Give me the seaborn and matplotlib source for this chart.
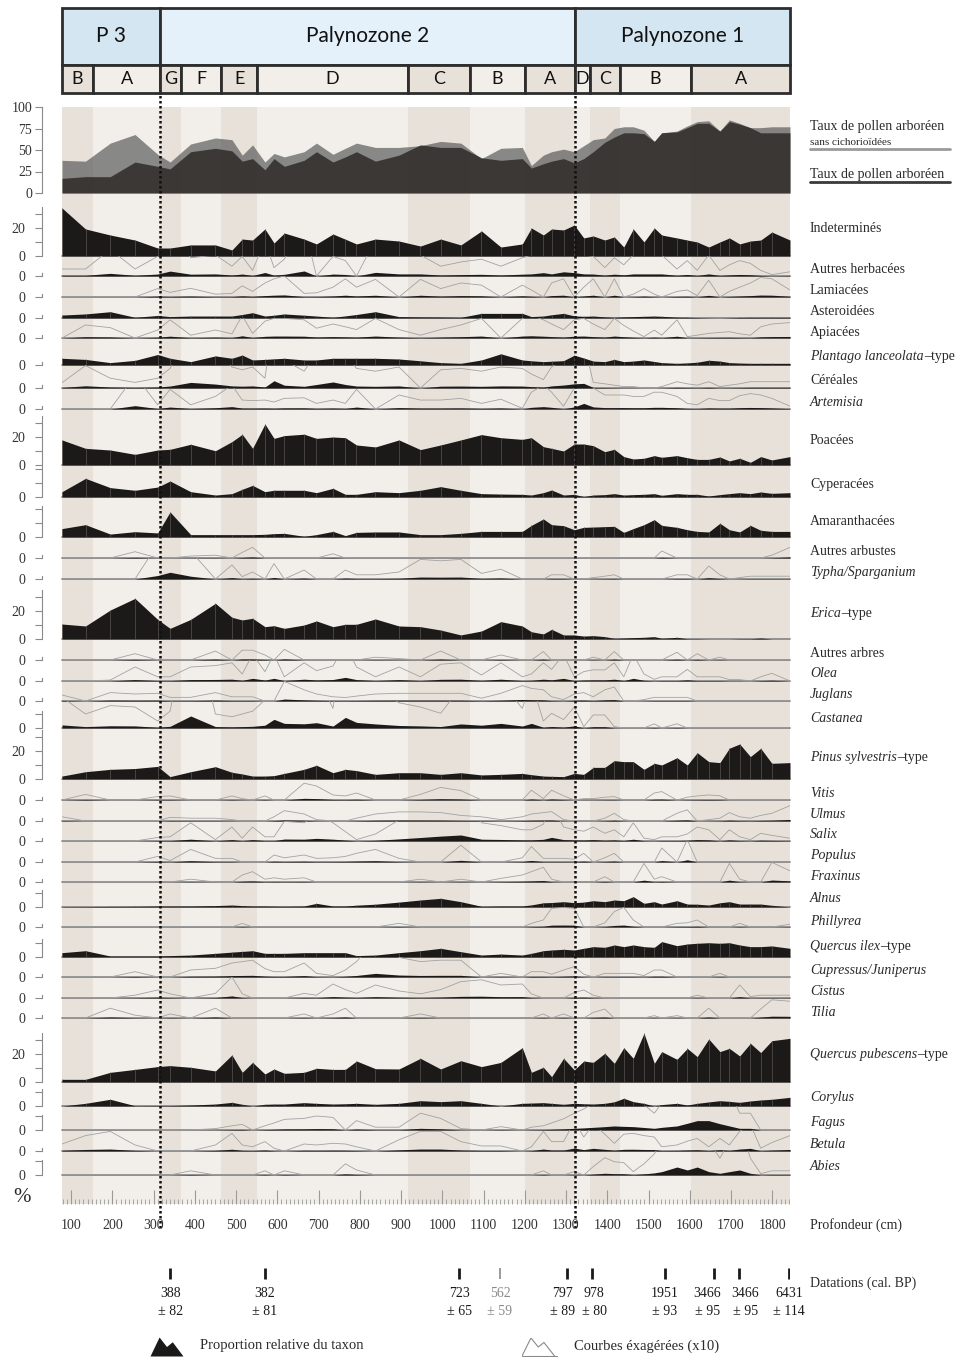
import matplotlib
matplotlib.use('Agg')
import matplotlib.pyplot as plt
from matplotlib.lines import Line2D
from matplotlib.ticker import MultipleLocator
import numpy as np
import seaborn as sns

sns.set_theme(style='white')
plt.rcParams['font.family'] = ['Liberation Serif', 'DejaVu Serif']

# ---------------------------------------------------------------- data
# sample depths (cm)
depth = [78, 135, 195, 255, 310, 340, 390, 450, 490, 515, 540, 570, 592, 617, 665, 695,
         735, 765, 792, 838, 895, 947, 996, 1045, 1095, 1142, 1194, 1216, 1245, 1265,
         1294, 1320, 1343, 1366, 1394, 1417, 1440, 1463, 1489, 1514, 1532, 1569, 1594,
         1618, 1646, 1673, 1696, 1721, 1747, 1772, 1799, 1843]

# arboreal pollen (%)
ap_total = [17, 19, 19, 36, 31, 28, 48, 52, 49, 37, 40, 27, 40, 31, 38, 48, 36, 42, 48, 37,
            44, 56, 53, 53, 41, 38, 40, 29, 34, 37, 40, 35, 40, 48, 59, 65, 70, 70, 69, 60,
            70, 71, 76, 81, 81, 72, 83, 80, 76, 70, 70, 70]
ap_sans_cichorioidees = [38, 37, 58, 68, 45, 36, 57, 64, 62, 44, 56, 36, 46, 42, 48, 58, 45, 52,
                         58, 53, 53, 55, 60, 58, 40, 52, 53, 32, 44, 48, 51, 48, 55, 62, 64, 75,
                         77, 77, 73, 60, 70, 72, 78, 83, 84, 72, 85, 81, 76, 76, 77, 77]

# taxa (%)
indetermines = [34.3, 19.3, 15, 11.4, 5.7, 5.7, 7.9, 7.9, 4.3, 12.1, 11.4, 19.3, 9.3, 16.4, 12.1,
                8.6, 15.7, 12, 8.6, 12.1, 10.7, 7.1, 12.1, 7.9, 17.9, 6.4, 8.6, 20, 15, 19.3,
                18.6, 22.1, 12.9, 14.3, 11.4, 13.6, 6.4, 19.3, 10, 20, 15, 12.9, 11.4, 10, 6.4,
                10, 12.9, 8.6, 10.7, 11.4, 17.1, 11.4]
autres_herbacees = [0.5, 0.5, 1.9, 0.5, 1.4, 3.5, 1.3, 1.5, 0.7, 1.4, 0.4, 2.5, 0.6, 1.2, 3.6, 0,
                    1.4, 1.1, 0, 2.6, 1.5, 1.5, 0.7, 1, 1.2, 0.7, 1.3, 1.5, 2.4, 1.5, 3, 2.4, 1.5,
                    1.4, 0.6, 1.3, 0.8, 1.5, 1.5, 1.5, 1.5, 0.5, 1.1, 0.4, 1.5, 0.4, 0.8, 1.1, 0.9,
                    0.4, 0.1, 0.3]
lamiacees = [0, 0, 0, 0, 0.6, 0.33, 0.62, 0.2, 0.26, 0.8, 0.4, 1, 1.3, 1.5, 0.26, 0.3, 0.7, 1.3,
             0.7, 1.26, 0, 1.26, 0.6, 1, 0.85, 0, 0.85, 0.5, 0, 1, 1.3, 0, 0.7, 1.3, 0, 1.3, 0,
             0.2, 0.6, 0.2, 0, 0.4, 0.5, 0.1, 1.2, 0, 0.4, 0.7, 1, 1.4, 1.3, 0.5]
asteroidees = [2.1, 2.9, 4.5, 0.5, 1.8, 1, 1.4, 1.4, 1.4, 2.5, 3.8, 1.4, 2, 2.9, 2, 1.4, 0.5, 1.5,
               2.5, 4.5, 1, 0.8, 0.7, 0.5, 3.3, 3.3, 3.3, 1, 1.4, 2.3, 3.3, 1.5, 1.2, 1.4, 0.8,
               0.5, 0.8, 1, 1.2, 1.4, 1.2, 0.6, 0.5, 0.3, 0.1, 0, 0.2, 0.4, 0.5, 0.5, 0.5, 0.5]
apiacees = [0, 0.93, 0.74, 0, 0.57, 1.3, 0.2, 0.57, 0.3, 1.6, 0.33, 1.2, 1.4, 1.4, 1.3, 0.7, 1,
            0.8, 0.6, 1.4, 0.6, 0.2, 0.6, 0.93, 1.4, 0, 1.4, 1.6, 1.3, 1, 0.6, 1.3, 1.4, 1, 0.6,
            1.4, 0.9, 0.5, 0.1, 0.57, 0.2, 1.3, 0.1, 0.2, 0.33, 0.4, 0.45, 0.3, 0.2, 0.8, 1, 1.1]
plantago = [4.8, 4, 1.7, 3.3, 7.5, 4.8, 2.4, 6.5, 4.8, 7.1, 3.6, 4, 4.4, 4.8, 3.6, 3.6, 4.8, 4.8,
            4.8, 4.8, 4.3, 3, 1.7, 1.2, 3.6, 8, 3.6, 3, 2.4, 2.7, 3.1, 7, 5, 2.8, 2.4, 4, 2.4,
            2.8, 3.6, 2.5, 1.7, 1.2, 1.5, 2, 3.4, 2.8, 1.7, 1.4, 1.2, 1.2, 1.2, 1.2]
cereales = [0.38, 1.6, 0.7, 0.4, 0.7, 1.4, 4, 2.8, 1.5, 1.3, 1.5, 0.7, 5.2, 2, 1.2, 2.5, 4.3, 2.5,
            1.4, 1.2, 1.5, 0, 1.3, 1.4, 1.2, 1.5, 1.4, 1, 0.6, 1.5, 2.1, 3, 3.3, 0.4, 0.3, 0.2,
            0.1, 0.1, 0, 0, 0.1, 0.45, 0.3, 0.2, 0.45, 0.1, 0.2, 0.3, 0.45, 0.45, 0.45, 0.45]
artemisia = [0, 0, 0, 2.4, 0.3, 1.4, 0.3, 0.9, 1.7, 0.64, 0.6, 0.64, 0.5, 0.76, 0.8, 0.4, 0.64,
             0.4, 1.4, 0, 1, 0.64, 0.64, 0.76, 0.4, 0.7, 0.05, 1.2, 1.7, 1.2, 0.2, 1.5, 4, 1.5, 1,
             1, 1, 0.9, 0.9, 1.2, 1.2, 0.9, 0.4, 0.3, 0.76, 0.6, 0.6, 0.95, 1.1, 1, 0.76, 0.2]
poacees = [17.9, 11.9, 10.7, 7.6, 10.7, 11.2, 14.8, 10.2, 16.7, 21.9, 11.9, 29.3, 19, 21, 22, 19,
           20, 19.5, 14.3, 12.9, 17.9, 11, 14.3, 17.9, 21.7, 19.5, 18.3, 19.5, 13.1, 11.9, 10, 15,
           15, 13.8, 9.5, 11.2, 6, 4.3, 4.8, 6.7, 5.5, 6.7, 5.2, 4, 4, 5.7, 2.9, 4.8, 1.9, 6, 3.6, 6]
cyperacees = [3.8, 13.3, 6.7, 4.8, 7.1, 11.4, 3.8, 1.4, 2.4, 5.5, 8.3, 3.8, 4.8, 4.8, 4.8, 3.1,
              6.2, 1.9, 1.9, 3.8, 3.1, 4.8, 7.4, 4.8, 2.4, 2.1, 1.9, 1.4, 3.1, 5, 1.4, 1.9, 0.3,
              1.4, 1.7, 2.4, 1.4, 1.7, 1.9, 2.4, 1.2, 2.4, 1.9, 1.9, 0.7, 1.7, 2.4, 3.1, 2.4, 3.6,
              2.6, 3.1]
amaranthacees = [6, 8.8, 2.1, 3.8, 2.9, 17.9, 1.7, 1.7, 1.7, 1.7, 1.7, 1.9, 2.4, 2.6, 0.5, 1.7, 4,
                 1, 3.3, 3.6, 3.6, 1.7, 1.7, 2.6, 4, 4, 4, 8.3, 12.9, 8.8, 8.1, 5.2, 6.9, 7.1, 7.4,
                 7.6, 3.3, 6, 8.8, 12.4, 8.3, 6.9, 5.2, 4, 3.6, 9.8, 5.2, 3.6, 8.3, 4.8, 4, 4]
autres_arbustes = [0, 0, 0, 0.45, 0, 0, 0.14, 0.2, 0, 0.4, 0.76, 0, 0, 0, 0, 0, 0.3, 0, 0, 0, 0,
                   0, 0, 0, 0, 0, 0, 0, 0, 0, 0, 0, 0, 0, 0, 0, 0, 0, 0, 0, 0.5, 0, 0, 0, 0, 0, 0,
                   0, 0, 0, 0.2, 0.76]
typha = [0, 0, 0, 0, 2.5, 4.8, 2, 0, 1, 0.17, 0.5, 0, 1.1, 0, 0.64, 0, 0, 0.64, 0.3, 0.3, 0.5,
         1.4, 1.3, 1.4, 0.4, 0.7, 0, 0, 0, 0.3, 0.3, 0, 0, 0.1, 0.2, 0.3, 0, 0, 0, 0, 0, 0.3,
         0.3, 0, 0.93, 0.3, 0, 0.1, 0.2, 0.2, 0.2, 0.2]
erica = [10.7, 9.3, 20.7, 29, 14, 7.6, 14, 25.5, 15.5, 13.6, 14.8, 8.8, 9.5, 7.6, 10, 12.9, 8.8,
         10.5, 10.5, 14.3, 9.3, 8.8, 6.4, 2.9, 5.7, 12.4, 9.3, 5.2, 3.6, 6.9, 2.9, 2.9, 2.1, 2.4,
         1.7, 0.5, 0.7, 1, 1.2, 1.7, 0.5, 1.2, 0.2, 0.2, 0, 0, 0, 0.2, 0.2, 0.7, 0, 0]
autres_arbres = [0, 0, 0, 0.45, 0, 0, 0, 0.64, 0, 0.7, 0.7, 0.36, 0, 0.76, 0, 0, 0, 0, 0, 0.2,
                 0.1, 0, 0.64, 0, 0, 0.36, 0, 0, 0.6, 0, 0, 0, 0, 0.2, 0, 0.6, 0, 0, 0, 0, 0,
                 0.55, 0, 0.45, 0, 0.2, 0, 0, 0, 0, 0, 0]
olea = [0, 0, 0.07, 1, 0.3, 0.3, 1, 1.1, 1.3, 0.5, 1.9, 0.67, 1.9, 0.3, 1.3, 0.74, 1.07, 2.6, 1,
        0.3, 1, 0.3, 1.2, 1.3, 0.43, 1.3, 0.3, 0.5, 1.3, 0.83, 1.9, 0.3, 0.67, 0.8, 0.79, 1.3,
        0.3, 1.9, 0.5, 0.12, 0.3, 0.3, 0.83, 0.3, 0.3, 0.3, 0.1, 0.1, 0, 0.3, 0.55, 0]
juglans = [0.43, 0, 0.6, 0.5, 0.55, 0.26, 0.26, 0.6, 0.3, 0.3, 0.3, 0, 0, 1.4, 0.8, 0.5, 0.3,
           0.25, 0.35, 0.5, 0.55, 0.55, 0.55, 0.55, 0.2, 0.55, 1.1, 0.9, 0.8, 0.3, 0.1, 0.5, 0.6,
           0.3, 0.8, 1, 0, 0, 0.1, 0.26, 0.26, 0.26, 0.26, 0, 0, 0, 0, 0, 0, 0, 0, 0]
castanea = [2.2, 1, 1.6, 1.5, 0.5, 1.2, 8.6, 1, 0.8, 1, 1.2, 2, 6.2, 3.3, 3, 3.8, 1.4, 7.6, 4,
            2.9, 1.8, 1.5, 1.05, 2.9, 2, 3.3, 1.4, 3.3, 0.5, 1.05, 0.6, 1.5, 0.1, 0.93, 0.93, 0.1,
            0, 0, 0, 0.3, 0, 0.3, 0, 0, 0, 0, 0, 0, 0, 0, 0, 0]
pinus = [2.1, 5.2, 6.9, 7.5, 9, 1.7, 5.2, 8.8, 4.8, 3.6, 2.1, 2.1, 2.4, 4, 6.9, 9.8, 4.5, 6.9, 6,
         3.3, 4.5, 4.5, 3.3, 4.5, 2.9, 3.3, 4, 3.1, 2.1, 1.9, 1.7, 4, 3.3, 8.3, 8.3, 13.1, 12.4,
         12.4, 6.9, 11.2, 10, 15.2, 10, 18.8, 12.4, 11.7, 22, 25, 16, 21.9, 11.2, 11.7]
vitis = [0, 0.4, 0, 0, 0.25, 0.29, 0, 0, 0.29, 0.1, 0, 0.29, 0, 0, 1.2, 1, 0.36, 0.29, 0.5, 0, 0,
         0.4, 0.9, 0.67, 0, 0, 0, 0.7, 0.1, 0.7, 0.3, 0, 0.1, 0.1, 0.2, 0.24, 0, 0, 0, 0.5, 0.6,
         0, 0.2, 0.29, 0.36, 0.3, 0, 0, 0, 0, 0, 0]
ulmus = [0.3, 0, 0, 0, 0, 0.26, 0.2, 0.2, 0.1, 0, 0, 0, 0.3, 0.74, 0.5, 0.1, 0, 0, 0.2, 0.5, 0.65,
         0.65, 0.6, 0.4, 0.3, 0.1, 0.3, 0.5, 0.6, 0.67, 0.1, 0, 0, 0, 0.2, 0.55, 0.1, 0, 0, 0, 0,
         0.55, 0.8, 0, 0.1, 0.2, 0.6, 0.3, 0.2, 0.4, 0.55, 1.1]
salix = [0, 0, 0, 0, 0.25, 0.3, 1.3, 0.1, 1, 0.2, 1, 0.3, 0.3, 1.4, 1.3, 1.9, 1.3, 0.67, 0.1, 0.5,
         1.5, 2.5, 3.5, 4.3, 1.3, 1.1, 0.8, 0.8, 1.2, 2.6, 1, 0.8, 0.7, 1, 0.55, 0.8, 0.3, 1.3,
         0.2, 0.1, 0.3, 0.3, 0.5, 1, 0.8, 0.1, 0.8, 0.3, 0.1, 0.55, 0.4, 0.2]
populus = [0, 0, 0, 0, 0.4, 0.1, 0.9, 0.26, 0.26, 0, 0, 0, 0.5, 0.3, 0.5, 0.26, 0.3, 0.4, 0.62,
           0.9, 0.26, 0, 0, 1.2, 0, 0, 0.3, 1.1, 0.26, 0.26, 0.26, 0.2, 0.62, 0, 0.3, 0.62, 0, 0,
           0, 0, 1, 0, 1.6, 0, 0, 0, 0, 0, 0, 0, 0, 0]
fraxinus = [0, 0, 0, 0, 0, 0, 0.2, 0, 0, 0.5, 0.74, 0.2, 0.3, 0.2, 0.3, 0, 0, 0, 0, 0, 0, 0.2, 0,
            0.2, 0, 0.26, 0.5, 0.74, 1.05, 0.2, 0, 0, 0, 0, 0.38, 0, 0, 0, 1.33, 0.2, 0.38, 0, 0,
            0, 0, 0, 1.33, 0.2, 0, 0, 1.4, 0.8]
alnus = [0.2, 0.3, 0.4, 0.5, 0.7, 0.7, 0.7, 1, 1.4, 1, 0.7, 0.7, 0.6, 0.5, 0.7, 2.6, 0.7, 0.7,
         1.3, 2, 3.5, 5, 6.2, 3.8, 0.5, 0.7, 0.7, 1.5, 3, 3.2, 3.8, 3.1, 3.5, 4.5, 3.8, 5, 4.5,
         7.4, 2.6, 3.8, 2.1, 4.5, 2.1, 2, 1.4, 3, 3.8, 2.1, 2.1, 2.1, 1.2, 0]
phillyrea = [0, 0, 0, 0, 0, 0, 0, 0, 0, 0.26, 0, 0, 0, 0, 0, 0, 0, 0, 0, 0, 0.26, 0, 0, 0, 0, 0,
             0, 0.26, 0.5, 1.33, 1.4, 1.33, 0, 0, 0.3, 1.1, 1.4, 0.5, 0, 0, 0, 0.26, 0.3, 0.5, 0,
             0, 0, 0.26, 0, 0, 0, 0.2]
quercus_ilex = [3.1, 4.5, 0.7, 0.7, 0.7, 1, 1.4, 2.6, 3.5, 4, 4.5, 2.6, 2.6, 2.6, 3.1, 3.1, 3.1,
                3.1, 1, 1.4, 3.1, 4.5, 6.2, 3.8, 1.4, 2.1, 1.4, 2.6, 4.5, 5, 5.5, 5, 6.2, 7.4, 6.9,
                8.6, 7.4, 8.6, 7.4, 6.9, 11, 8.1, 9.3, 9.8, 10.2, 9.8, 10.2, 8.6, 7.4, 7.4, 7.9, 6.2]
cupressus = [0, 0, 0, 0.38, 0, 0, 0.5, 0.62, 1, 1.1, 1.2, 0.6, 0.38, 0.38, 1, 0.26, 0.1, 0.5, 1.1,
             2.6, 1.4, 1.1, 1.2, 1.2, 0, 0.26, 0, 0.38, 0.38, 0.2, 0.5, 0.74, 0.2, 0, 0.26, 0.26,
             0.26, 0.26, 0.1, 0.5, 0.5, 0, 0, 0, 0, 0.26, 0, 0, 0, 0, 0, 0]
cistus = [0, 0, 0, 0.2, 0.57, 0.3, 0, 0.33, 1.5, 0.3, 0, 0, 0, 0, 0.33, 0.2, 1, 0.6, 0.33, 0.93,
          0.5, 0.3, 0.6, 1.17, 1.3, 0.93, 1, 0.3, 0, 0, 0, 0.4, 0.57, 0.2, 0, 0, 0, 0, 0, 0, 0, 0,
          0, 0.2, 0, 0, 0, 0.93, 0.1, 0.2, 0.2, 0.2]
tilia = [0, 0, 0.7, 0.2, 0, 0.29, 0, 0.7, 0, 0, 0, 0, 0, 0, 0.29, 0, 0.29, 0.7, 0, 0, 0, 0.29, 0,
         0, 0, 0, 0, 0, 0.29, 0, 0.29, 0, 0, 0.4, 0.64, 0, 0, 0, 0, 0.17, 0, 0.17, 0, 0, 0.7, 0,
         0, 0, 0, 0.64, 1.3, 1.2]
quercus_pubescens = [1.9, 1.9, 6.9, 9, 11, 11.7, 10.5, 7.9, 19.3, 6.9, 14, 5.7, 9.3, 6.2, 6.9,
                     9.8, 9, 9, 15, 9.5, 9.3, 16.9, 9.3, 15.2, 11, 14, 24.5, 6.9, 10.5, 3.8, 16.9,
                     8.6, 15, 14, 20.5, 13.3, 24.5, 16.9, 34.8, 13.3, 21.7, 16.2, 24, 18.1, 30.7,
                     21.7, 24, 18.6, 27.6, 21, 29.5, 31.2]
corylus = [0, 1.9, 4.8, 0.2, 0.3, 0.3, 0.7, 1.4, 2.6, 1.2, 0, 1.2, 1.4, 1.4, 2.4, 1.9, 1.4, 1.6,
           1.9, 1.2, 1.9, 3.8, 3.1, 3.8, 1.9, 0, 1.9, 2.1, 2.4, 1.9, 1.2, 1.9, 1.6, 1.4, 1.9, 3,
           5.5, 3.1, 1.9, 0, 1, 1.9, 0.7, 1.9, 2.9, 3.8, 3.3, 2.6, 3.6, 4.3, 4.8, 6.2]
fagus = [0, 0, 0, 0, 0, 0, 0, 0.1, 0.3, 0.4, 0, 0.3, 0.5, 0.76, 0.83, 1, 0.9, 0, 0.67, 0.2, 0.2,
         1.2, 0.83, 0.1, 0, 0.24, 0, 0.2, 0.3, 0.5, 0.8, 1.2, 1.5, 1.9, 2.4, 2.9, 2.6, 2.4, 1.8,
         1.2, 1.9, 2.9, 4.8, 6.7, 6.7, 4.5, 2.9, 1.2, 1.2, 0, 0, 0]
betula = [0.5, 1.1, 1.4, 0.43, 0, 0, 0, 0.43, 1.26, 0.43, 0.3, 0.67, 0.2, 0, 0.5, 0.43, 0.55, 0.5,
          0.3, 0, 0.8, 1.4, 1.4, 0.67, 0.36, 0.36, 0, 0.3, 1.4, 0.67, 0.67, 2.1, 1, 1.9, 1.2, 0.55,
          1.2, 1.26, 1.1, 1, 0.3, 0.43, 0.7, 0.9, 0.3, 0.9, 0.43, 1.4, 1.9, 0.2, 0.6, 1.1]
abies = [0, 0, 0, 0, 0, 0, 0.3, 0, 0, 0, 0, 0.3, 0, 0.3, 0, 0, 0, 0.8, 0.36, 0, 0, 0, 0, 0, 0, 0,
         0, 0, 0.3, 0, 0, 0.24, 0, 0.6, 1.24, 0.95, 0.88, 0.24, 0.8, 1.5, 2.4, 5.7, 3.6, 5.7, 2.4,
         1.2, 2.4, 3.6, 1.2, 0.1, 0.3, 0.3]

# zonation
palynozones = ['P 3', 'Palynozone 2', 'Palynozone 1']
palynozone_bounds = [78, 316, 1322, 1843]
subzones = ['B', 'A', 'G', 'F', 'E', 'D', 'C', 'B', 'A', 'D', 'C', 'B', 'A']
subzone_bounds = [78, 153, 316, 367, 464, 551, 917, 1067, 1201, 1322, 1358, 1431, 1603, 1843]

# radiocarbon dates
date_depth = [340, 570, 1041, 1140, 1303, 1363, 1540, 1659, 1720, 1841]
date_age = [388, 382, 723, 562, 797, 978, 1951, 3466, 3466, 6431]
date_err = [82, 81, 65, 59, 89, 80, 93, 95, 95, 114]
date_rejected = [False, False, False, True, False, False, False, False, False, False]

legend_icon_x = [0, 1.1, 2.0, 2.7, 4]
legend_icon_y = [0, 1, 0.5, 0.75, 0]

# ---------------------------------------------------------------- layout
W, H = 962, 1357
fig = plt.figure(figsize=(W / 100, H / 100), dpi=100)
fig.patch.set_facecolor('white')


def box(x0, y0, x1, y1):
    # pixel box (origin top-left) -> figure rect
    return [x0 / W, 1 - y1 / H, (x1 - x0) / W, (y1 - y0) / H]


PLOT_L, PLOT_R = 62, 790
XLIM = (depth[0], depth[-1])
PX_PER_PCT = 1.4
SHADE, LIGHT = '#e7e1d9', '#f2efeb'
INK = '#1c1a19'
EXAG = '#a2a2a2'
AXIS = '#8a8a8a'
TXT = '#2a2a2a'
SANS = ['Lato', 'DejaVu Sans']


def left_axis(ax, major, minor, bound, pad):
    for s in ('top', 'right', 'bottom'):
        ax.spines[s].set_visible(False)
    sp = ax.spines['left']
    sp.set_position(('outward', 14.4))
    sp.set_bounds(0, bound)
    sp.set_color(AXIS)
    sp.set_linewidth(0.8)
    ax.set_yticks(major)
    ax.set_yticks(minor, minor=True)
    ax.tick_params(axis='y', which='both', left=True, direction='out', length=5,
                   width=0.8, color=AXIS, labelsize=10, labelcolor='#333333', pad=pad)
    ax.set_xticks([])
    ax.set_xlim(XLIM)
    ax.set_xlabel('')
    ax.set_ylabel('')


def right_label(parts, y_px, size=10, color=TXT):
    x = 810 / W
    y = 1 - (y_px + 4) / H
    r = fig.canvas.get_renderer()
    for txt, st in parts:
        t = fig.text(x, y, txt, style=st, fontsize=size, color=color, va='baseline', ha='left')
        x = t.get_window_extent(renderer=r).x1 / fig.bbox.width


# background bands of the sub-zones
bg = fig.add_axes(box(PLOT_L, 107, PLOT_R, 1204), zorder=0)
for i in range(len(subzones)):
    bg.axvspan(subzone_bounds[i], subzone_bounds[i + 1],
               color=SHADE if i % 2 == 0 else LIGHT, lw=0)
bg.set_xlim(XLIM)
bg.axis('off')

# zone header
hd = fig.add_axes(box(PLOT_L, 8, PLOT_R, 93), zorder=3)
hd.set_xlim(XLIM)
hd.set_ylim(0, 1)
hd.axis('off')
split = 28 / 85
zone_fill = ['#d5e6f3', '#e4f0fa', '#d5e6f3']
for i, name in enumerate(palynozones):
    a, b = palynozone_bounds[i], palynozone_bounds[i + 1]
    p = hd.axvspan(a, b, ymin=split, ymax=1, facecolor=zone_fill[i], edgecolor='#2d2d2d', lw=2)
    p.set_clip_on(False)
    hd.text((a + b) / 2, (split + 1) / 2, name, ha='center', va='center',
            fontsize=15, family=SANS, color='#111111')
for i, name in enumerate(subzones):
    a, b = subzone_bounds[i], subzone_bounds[i + 1]
    p = hd.axvspan(a, b, ymin=0, ymax=split, facecolor=SHADE if i % 2 == 0 else LIGHT,
                   edgecolor='#2d2d2d', lw=2)
    p.set_clip_on(False)
    hd.text((a + b) / 2, split / 2, name, ha='center', va='center',
            fontsize=13, family=SANS, color='#111111')

# arboreal pollen panel
ap = fig.add_axes(box(PLOT_L, 107, PLOT_R, 193), zorder=2)
ap.set_facecolor('none')
ap.fill_between(depth, 0, ap_sans_cichorioidees, color='#5c5c5c', alpha=0.7, lw=0)
ap.fill_between(depth, 0, ap_total, color='#1f1a18', alpha=0.72, lw=0)
ap.set_ylim(0, 100)
left_axis(ap, [0, 25, 50, 75, 100], [], 100, pad=2)
right_label([('Taux de pollen arboréen', 'normal')], 126)
right_label([('sans cichorioïdées', 'normal')], 141, size=8)
right_label([('Taux de pollen arboréen', 'normal')], 174)
fig.add_artist(Line2D([810 / W, 950 / W], [1 - 149 / H] * 2, color='#9a9a9a', lw=2))
fig.add_artist(Line2D([810 / W, 950 / W], [1 - 182 / H] * 2, color='#3a3a3a', lw=2))

N, I = 'normal', 'italic'
rows = [
    dict(lab=[('Indeterminés', N)], v=indetermines, base=256, exag=False, minor=[10, 30], major=[0, 20], bound=35, ly=228),
    dict(lab=[('Autres herbacées', N)], v=autres_herbacees, base=276, exag=True, ly=269),
    dict(lab=[('Lamiacées', N)], v=lamiacees, base=297, exag=True, ly=290),
    dict(lab=[('Asteroidées', N)], v=asteroidees, base=318, exag=False, ly=311),
    dict(lab=[('Apiacées', N)], v=apiacees, base=338, exag=True, ly=332),
    dict(lab=[('Plantago lanceolata', I), ('–type', N)], v=plantago, base=365, exag=False, ly=356),
    dict(lab=[('Céréales', N)], v=cereales, base=388, exag=True, ly=380),
    dict(lab=[('Artemisia', I)], v=artemisia, base=409, exag=True, ly=402),
    dict(lab=[('Poacées', N)], v=poacees, base=465, exag=False, minor=[10, 30], major=[0, 20], bound=35, ly=440),
    dict(lab=[('Cyperacées', N)], v=cyperacees, base=497, exag=False, minor=[10, 20], bound=22, ly=484),
    dict(lab=[('Amaranthacées', N)], v=amaranthacees, base=537, exag=False, minor=[10, 20], bound=22, ly=521),
    dict(lab=[('Autres arbustes', N)], v=autres_arbustes, base=558, exag=True, ly=551),
    dict(lab=[('Typha/Sparganium', I)], v=typha, base=579, exag=True, ly=572),
    dict(lab=[('Erica', I), ('–type', N)], v=erica, base=639, exag=False, minor=[10, 30], major=[0, 20], bound=35, ly=613),
    dict(lab=[('Autres arbres', N)], v=autres_arbres, base=660, exag=True, ly=653),
    dict(lab=[('Olea', I)], v=olea, base=681, exag=True, ly=673),
    dict(lab=[('Juglans', I)], v=juglans, base=701, exag=True, ly=694),
    dict(lab=[('Castanea', I)], v=castanea, base=728, exag=True, minor=[10], bound=12, ly=718),
    dict(lab=[('Pinus sylvestris', I), ('–type', N)], v=pinus, base=779, exag=False, minor=[10, 30], major=[0, 20], bound=35, ly=757),
    dict(lab=[('Vitis', I)], v=vitis, base=800, exag=True, ly=793),
    dict(lab=[('Ulmus', I)], v=ulmus, base=821, exag=True, ly=814),
    dict(lab=[('Salix', I)], v=salix, base=841, exag=True, ly=834),
    dict(lab=[('Populus', I)], v=populus, base=862, exag=True, ly=855),
    dict(lab=[('Fraxinus', I)], v=fraxinus, base=882, exag=True, ly=876),
    dict(lab=[('Alnus', I)], v=alnus, base=907, exag=False, minor=[10], bound=12, ly=898),
    dict(lab=[('Phillyrea', I)], v=phillyrea, base=927, exag=True, ly=921),
    dict(lab=[('Quercus ilex', I), ('–type', N)], v=quercus_ilex, base=957, exag=False, minor=[10], bound=13, ly=946),
    dict(lab=[('Cupressus/Juniperus', I)], v=cupressus, base=977, exag=True, ly=970),
    dict(lab=[('Cistus', I)], v=cistus, base=998, exag=True, ly=991),
    dict(lab=[('Tilia', I)], v=tilia, base=1018, exag=True, ly=1012),
    dict(lab=[('Quercus pubescens', I), ('–type', N)], v=quercus_pubescens, base=1082, exag=False, minor=[10, 30], major=[0, 20], bound=35, ly=1054),
    dict(lab=[('Corylus', I)], v=corylus, base=1106, exag=False, minor=[10], bound=12, ly=1097),
    dict(lab=[('Fagus', I)], v=fagus, base=1130, exag=True, minor=[10], bound=11, ly=1122),
    dict(lab=[('Betula', I)], v=betula, base=1151, exag=True, ly=1144),
    dict(lab=[('Abies', I)], v=abies, base=1175, exag=True, minor=[10], bound=11, ly=1166),
]

top = 193
for r in rows:
    base = r['base']
    ax = fig.add_axes(box(PLOT_L, top, PLOT_R, base), zorder=2)
    ax.set_facecolor('none')
    vals = np.asarray(r['v'], dtype=float)
    ax.axhline(0, color=AXIS, lw=1.3, zorder=1, clip_on=False)
    if r['exag']:
        sns.lineplot(x=depth, y=vals * 10, ax=ax, color=EXAG, lw=0.6,
                     estimator=None, sort=False, zorder=2)
    ax.fill_between(depth, 0, vals, color=INK, lw=0, zorder=3)
    if not r['exag']:
        ax.vlines(depth, 0, vals, color='#5a5350', lw=0.5, zorder=4)
    ax.set_ylim(0, (base - top) / PX_PER_PCT)
    left_axis(ax, r.get('major', [0]), r.get('minor', []), r.get('bound', 2.2), pad=7)
    right_label(r['lab'], r['ly'])
    top = base

# depth ruler
ru = fig.add_axes(box(PLOT_L, 1180, PLOT_R, 1204), zorder=2)
ru.set_facecolor('none')
ru.set_xlim(XLIM)
ru.set_yticks([])
for s in ru.spines.values():
    s.set_visible(False)
ru.xaxis.set_major_locator(MultipleLocator(100))
ru.xaxis.set_minor_locator(MultipleLocator(10))
ru.tick_params(axis='x', which='major', bottom=True, direction='in', length=10, width=0.8,
               color='#9a9a9a', labelsize=10, labelcolor='#333333', pad=11)
ru.tick_params(axis='x', which='minor', bottom=True, direction='in', length=3.5, width=0.6,
               color='#9a9a9a')
fig.text(22 / W, 1 - 1197 / H, '%', fontsize=15, ha='center', va='center', color=TXT)
right_label([('Profondeur (cm)', N)], 1225)

# dotted palynozone limits
ov = fig.add_axes(box(PLOT_L, 95, PLOT_R, 1228), zorder=5)
ov.set_facecolor('none')
ov.set_xlim(XLIM)
ov.set_ylim(0, 1)
ov.axis('off')
for b in palynozone_bounds[1:-1]:
    ov.axvline(b, color='#111111', lw=1.8, ls=(0, (1, 1)))

# datations (label nudges keep neighbouring dates apart)
date_label_nudge = [0, 0, 0, 0, -12, 5, 0, -17, 15, 0]
dt = fig.add_axes(box(PLOT_L, 1262, PLOT_R, 1322), zorder=2)
dt.set_xlim(XLIM)
dt.set_ylim(1, 0)
dt.axis('off')
for d, a, e, rej, nd in zip(date_depth, date_age, date_err, date_rejected, date_label_nudge):
    c = '#8a8a8a' if rej else '#1a1a1a'
    dt.vlines(d, 0.1, 0.28, color=c, lw=1.2 if rej else 2)
    dt.text(d + nd, 0.53, str(a), ha='center', va='center', fontsize=10, color=c)
    dt.text(d + nd, 0.83, f'± {e}', ha='center', va='center', fontsize=10, color=c)
right_label([('Datations (cal. BP)', N)], 1283)

# legend
lg1 = fig.add_axes(box(150, 1337, 183, 1356))
lg1.fill_between(legend_icon_x, 0, legend_icon_y, color=INK, lw=0)
lg1.set_xlim(0, 4)
lg1.set_ylim(0, 1)
lg1.axis('off')
fig.text(200 / W, 1 - 1346 / H, 'Proportion relative du taxon', va='center', fontsize=10.5, color=TXT)
lg2 = fig.add_axes(box(522, 1338, 557, 1356))
sns.lineplot(x=legend_icon_x, y=legend_icon_y, ax=lg2, color='#8a8a8a', lw=0.8,
             estimator=None, sort=False)
lg2.axhline(0, color='#8a8a8a', lw=0.8, clip_on=False)
lg2.set_xlim(0, 4.3)
lg2.set_ylim(0, 1)
lg2.axis('off')
fig.text(574 / W, 1 - 1346 / H, 'Courbes éxagérées (x10)', va='center', fontsize=10.5, color=TXT)

fig.savefig('out.png', dpi=100)
